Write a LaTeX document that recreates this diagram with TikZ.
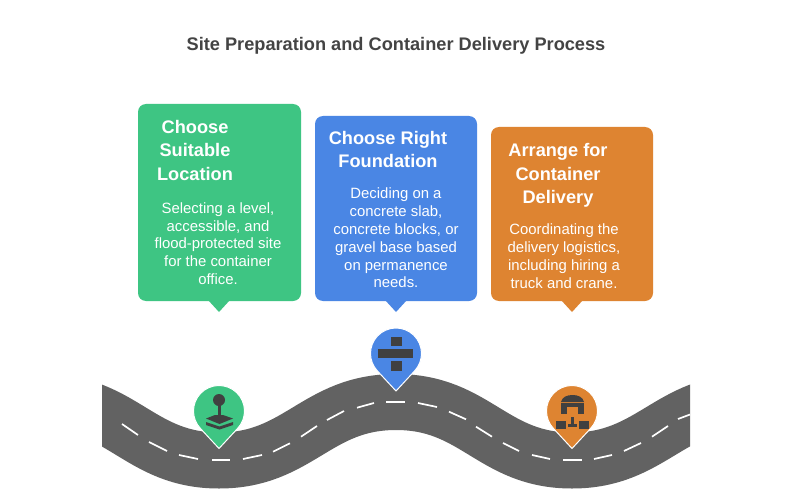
\documentclass[tikz,border=0pt]{standalone}
\usepackage{fontspec}
\setmainfont{Liberation Sans}
\usetikzlibrary{calc}
\definecolor{cgreen}{HTML}{3EC583}
\definecolor{cblue}{HTML}{4A86E4}
\definecolor{corange}{HTML}{DE8431}
\definecolor{croad}{HTML}{626262}
\definecolor{cicon}{HTML}{404040}
\definecolor{ctitle}{HTML}{444444}
\tikzset{
  card/.style={rounded corners=8pt,line width=0pt},
  headtxt/.style={text=white,font=\fontsize{18.2}{23.5}\selectfont\bfseries,align=center,inner sep=0pt},
  bodytxt/.style={text=white,font=\fontsize{14.9}{17.8}\selectfont,align=center,inner sep=0pt},
  pinshape/.style={draw=white,line width=1pt},
  iconfill/.style={fill=cicon,draw=none}
}
\newcommand{\pinat}[3]{% x, centre y, colour
  \filldraw[pinshape,fill=#3] (#1,#2+37.5) -- ($(#1,#2)+(43.6:25.5)$) arc[start angle=43.6,end angle=-223.6,radius=25.5] -- cycle;
}
\begin{document}
\begin{tikzpicture}[x=1pt,y=1pt,yscale=-1]
\useasboundingbox (0,0) rectangle (800,500);
\fill[white] (0,0) rectangle (800,500);
\node[text=ctitle,font=\fontsize{18.2}{20}\selectfont\bfseries,inner sep=0pt] (title) at (396,46) {Site Preparation and Container Delivery Process};
% cards
\fill[card,cgreen] (138,104) rectangle (301,301);
\fill[cgreen] (208,300) -- (219,312) -- (230,300) -- cycle;
\fill[card,cblue] (315,116) rectangle (477,301);
\fill[cblue] (385,300) -- (396,312) -- (407,300) -- cycle;
\fill[card,corange] (491,127) rectangle (653,301);
\fill[corange] (561,300) -- (572,312) -- (583,300) -- cycle;
\node[headtxt] (h1) at (195,150) {Choose\\Suitable\\Location};
\node[bodytxt] (b1) at (218,243.5) {Selecting a level,\\accessible, and\\flood-protected site\\for the container\\office.};
\node[headtxt] (h2) at (388,149.5) {Choose Right\\Foundation};
\node[bodytxt] (b2) at (396,238) {Deciding on a\\concrete slab,\\concrete blocks, or\\gravel base based\\on permanence\\needs.};
\node[headtxt] (h3) at (558,175.5) {Arrange for\\Container\\Delivery};
\node[bodytxt] (b3) at (564,256) {Coordinating the\\delivery logistics,\\including hiring a\\truck and crane.};
% road
\begin{scope}
\clip (102,340) rectangle (690,495);
\draw[croad,line width=56pt] (43,402) .. controls (123,402) and (139,460.5) .. (219,460.5) .. controls (299,460.5) and (316,402) .. (396,402) .. controls (476,402) and (492,460.5) .. (572,460.5) .. controls (652,460.5) and (669,402) .. (749,402);
\end{scope}
\foreach \ax/\ay/\bx/\by in {122/424/138/435, 149/442/167/451, 179/455/198/459, 212/460.2/230/460.2, 243/459/262/455, 273/451.7/290/443.3, 301/436.7/317/426, 327/420/344/411, 357/407.7/374/403, 386/402/405/402, 418/403/437/407, 449/411.7/466/419.3, 476/426.7/492/436.7, 503/443/519/451, 532/455/550/459, 563/460.2/582/460.2, 594/459/612/455, 624/451/641/443, 652/436.7/668/426, 678/419/690/414.5}
  \draw[white,line width=1.7pt] (\ax,\ay) -- (\bx,\by);
% pins
\pinat{219}{411}{cgreen}
\pinat{396}{353.5}{cblue}
\pinat{572}{411}{corange}
% green icon
\fill[iconfill] (219,400) circle (6);
\fill[iconfill] (217.5,404) rectangle (220.5,416);
\fill[iconfill] (206,418.5) -- (215,415) -- (223,415) -- (233,418.5) -- (219.5,424) -- cycle;
\fill[iconfill] (206,422) -- (219.5,426.5) -- (233,422) -- (233,425) -- (219.5,429.5) -- (206,425) -- cycle;
% blue icon
\fill[iconfill] (391,337) rectangle (402,346);
\fill[iconfill] (378,349) rectangle (413,358);
\fill[iconfill] (391,361) rectangle (402,371);
% orange icon
\fill[iconfill] (561,402) .. controls (562,397) and (567,395) .. (572.5,395) .. controls (578,395) and (583,397) .. (584,402) -- cycle;
\fill[iconfill] (561,403) rectangle (584,407);
\fill[iconfill] (561,403) rectangle (567,414);
\fill[iconfill] (578,403) rectangle (584,414);
\fill[iconfill] (556,421) rectangle (566,429);
\fill[iconfill] (579,421) rectangle (589,429);
\fill[iconfill] (571,417) rectangle (574,424);
\fill[iconfill] (568,424) rectangle (577,427);
\end{tikzpicture}
\end{document}
